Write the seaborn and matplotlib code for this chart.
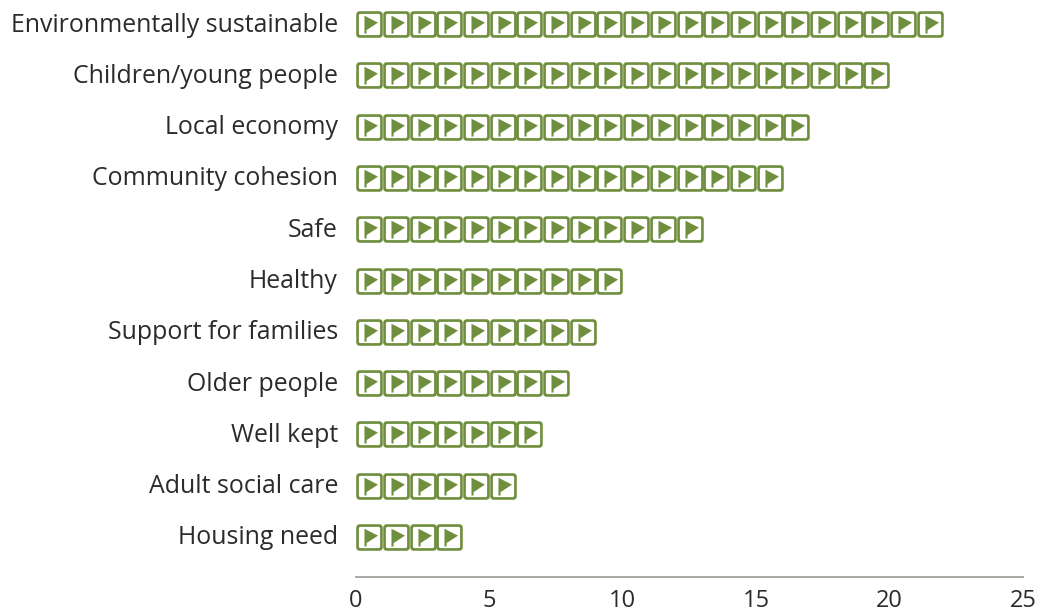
import numpy as np
import pandas as pd
import seaborn as sns
import matplotlib
matplotlib.use('Agg')
import matplotlib.pyplot as plt
from matplotlib.path import Path
from matplotlib.transforms import ScaledTranslation

categories = ['Environmentally sustainable', 'Children/young people', 'Local economy',
              'Community cohesion', 'Safe', 'Healthy', 'Support for families',
              'Older people', 'Well kept', 'Adult social care', 'Housing need']
counts = [22, 20, 17, 16, 13, 10, 9, 8, 7, 6, 4]
x_ticks = [0, 5, 10, 15, 20, 25]

GREEN = '#6f8f3e'
TEXT = '#2b2b2b'


def roundedSquare(half, r, reverse=False):
    k = 0.5523 * r
    h = half
    verts = [(-h + r, -h), (h - r, -h), (h - r + k, -h), (h, -h + r - k), (h, -h + r),
             (h, h - r), (h, h - r + k), (h - r + k, h), (h - r, h),
             (-h + r, h), (-h + r - k, h), (-h, h - r + k), (-h, h - r),
             (-h, -h + r), (-h, -h + r - k), (-h + r - k, -h), (-h + r, -h)]
    codes = [Path.MOVETO, Path.LINETO, Path.CURVE4, Path.CURVE4, Path.CURVE4,
             Path.LINETO, Path.CURVE4, Path.CURVE4, Path.CURVE4,
             Path.LINETO, Path.CURVE4, Path.CURVE4, Path.CURVE4,
             Path.LINETO, Path.CURVE4, Path.CURVE4, Path.CURVE4]
    if reverse:
        # same curve, other way round, so the inside stays empty
        verts = verts[::-1]
        codes = [Path.MOVETO] + codes[1:][::-1]
    return Path(verts, codes)


def flagIcon():
    outer = roundedSquare(1.0, 0.25)
    inner = roundedSquare(0.80, 0.12, reverse=True)
    flag = Path([(-0.38, -0.68), (-0.38, 0.66), (0.64, 0.14), (-0.22, -0.42), (-0.22, -0.68), (-0.38, -0.68)],
                [Path.MOVETO, Path.LINETO, Path.LINETO, Path.LINETO, Path.LINETO, Path.CLOSEPOLY])
    return Path.make_compound_path(outer, inner, flag)


df = pd.DataFrame({'category': categories, 'count': counts})
icons = df.loc[df.index.repeat(df['count'])].copy()
icons['x'] = icons.groupby('category').cumcount() + 0.5

sns.set_theme(style='white')
plt.rcParams['font.family'] = ['Open Sans', 'DejaVu Sans']

fig = plt.figure(figsize=(10.41, 6.14), dpi=100)
ax = fig.add_axes([356 / 1041, 1 - 577 / 614, 667 / 1041, 577 / 614])

sns.scatterplot(data=icons, x='x', y='category', marker=flagIcon(), s=365, color=GREEN,
                linewidth=0, legend=False, ax=ax, zorder=3)

ax.set_xlim(0, 25)
ax.set_ylim(10.78, -0.47)
ax.set_xticks(x_ticks)
ax.set_xlabel('')
ax.set_ylabel('')
ax.tick_params(axis='x', length=0, pad=8.5, labelsize=17, labelcolor=TEXT)
ax.tick_params(axis='y', length=0, pad=13, labelsize=17.9, labelcolor=TEXT)
# labels sit a touch above the icon centres
for label in ax.get_yticklabels():
    label.set_transform(label.get_transform() + ScaledTranslation(0, 2 / 100, fig.dpi_scale_trans))
sns.despine(ax=ax, left=True)
ax.spines['bottom'].set_color('#a3a39c')
ax.spines['bottom'].set_linewidth(1.3)
ax.patch.set_visible(False)

fig.savefig('out.png', dpi=100)
